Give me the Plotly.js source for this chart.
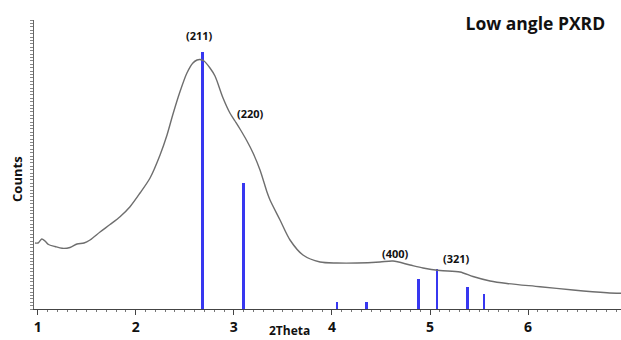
<!DOCTYPE html>
<html>
<head>
<meta charset="utf-8">
<script src="https://cdn.plot.ly/plotly-3.0.1.min.js"></script>
<style>html,body{margin:0;padding:0;background:#fff;}#chart{width:621px;height:340px;}</style>
</head>
<body>
<div id="chart"></div>
<script>
// Measured pattern (2Theta, relative counts)
const twoTheta = [0.973,1.004,1.042,1.075,1.111,1.177,1.249,1.330,1.402,1.473,1.534,1.636,1.738,1.840,1.942,2.044,2.146,2.248,2.319,2.380,2.450,2.522,2.583,2.625,2.655,2.696,2.757,2.808,2.890,2.960,3.012,3.063,3.134,3.196,3.267,3.338,3.369,3.471,3.573,3.705,3.879,4.052,4.256,4.490,4.623,4.796,4.929,5.102,5.306,5.438,5.612,5.785,6.121,6.458,6.804,6.947];
const counts = [66,66,70,68,64.5,62.5,60.7,61.5,65,66,69,77,84.5,92.3,102.3,116,131,154,174,195,217,236,246,249,249.5,248,241,233,211,196,188,180,168,156,139,117,109,89,69,54,47,46,46,47,48,44,41,38.5,37,32.5,28,25.5,22.3,19,16.3,15.7];

// Reference reflections (stick pattern)
const refPos = [2.68,3.10,4.05,4.35,4.88,5.07,5.38,5.55];
const refInt = [257,126,7,7,30,40,22,15];

// Miller index labels
const hklText = ["(211)","(220)","(400)","(321)"];
const hklX = [2.655,3.165,4.653,5.275];
const hklY = [274,196,56,51];

const FONT = "Open Sans, DejaVu Sans, sans-serif";
const labelFont = {family:FONT, size:11, color:"#111"};

const traces = [
  {
    type:"bar", x:refPos, y:refInt, width:0.026,
    marker:{color:"rgb(55,55,240)", line:{width:0}},
    hoverinfo:"x+y", showlegend:false
  },
  {
    type:"scatter", mode:"lines", x:twoTheta, y:counts,
    line:{color:"#6e6e6e", width:1.4, shape:"spline", smoothing:0.8},
    showlegend:false
  }
];

const annotations = hklText.map((t,i)=>({
  x:hklX[i], y:hklY[i], xref:"x", yref:"y", text:"<b>"+t+"</b>",
  showarrow:false, font:labelFont
}));
annotations.push({
  xref:"paper", yref:"paper", x:-0.029, y:0.45, text:"<b>Counts</b>",
  textangle:-90, showarrow:false, xanchor:"center", yanchor:"middle",
  font:{family:FONT, size:13, color:"#111"}
});
annotations.push({
  xref:"paper", yref:"paper", x:0.436, y:-0.074, text:"<b>2Theta</b>",
  showarrow:false, xanchor:"center", yanchor:"middle",
  font:{family:FONT, size:12, color:"#111"}
});

const layout = {
  width:621, height:340,
  margin:{l:34, r:0, t:20, b:31},
  paper_bgcolor:"#fff", plot_bgcolor:"#fff",
  title:{text:"<b>Low angle PXRD</b>", x:0.973, xanchor:"right", xref:"paper", y:0.93, yanchor:"middle",
         font:{family:FONT, size:17.5, color:"#111"}},
  bargap:0,
  xaxis:{
    range:[0.963,6.947], showgrid:false, zeroline:false,
    showline:true, linecolor:"#444", linewidth:1,
    ticks:"outside", ticklen:5, tickcolor:"#444", dtick:1, tick0:1,
    minor:{dtick:0.1, ticks:"outside", ticklen:2, tickcolor:"#777"},
    tickfont:{family:FONT, size:14, color:"#111", weight:"bold"}
  },
  yaxis:{
    range:[0,289], showgrid:false, zeroline:false,
    showline:true, linecolor:"#666", linewidth:1,
    ticks:"outside", ticklen:3, tickcolor:"#888", dtick:3.4, tick0:0,
    showticklabels:false
  },
  annotations:annotations
};

Plotly.newPlot("chart", traces, layout, {displayModeBar:false, staticPlot:true});
</script>
</body>
</html>
